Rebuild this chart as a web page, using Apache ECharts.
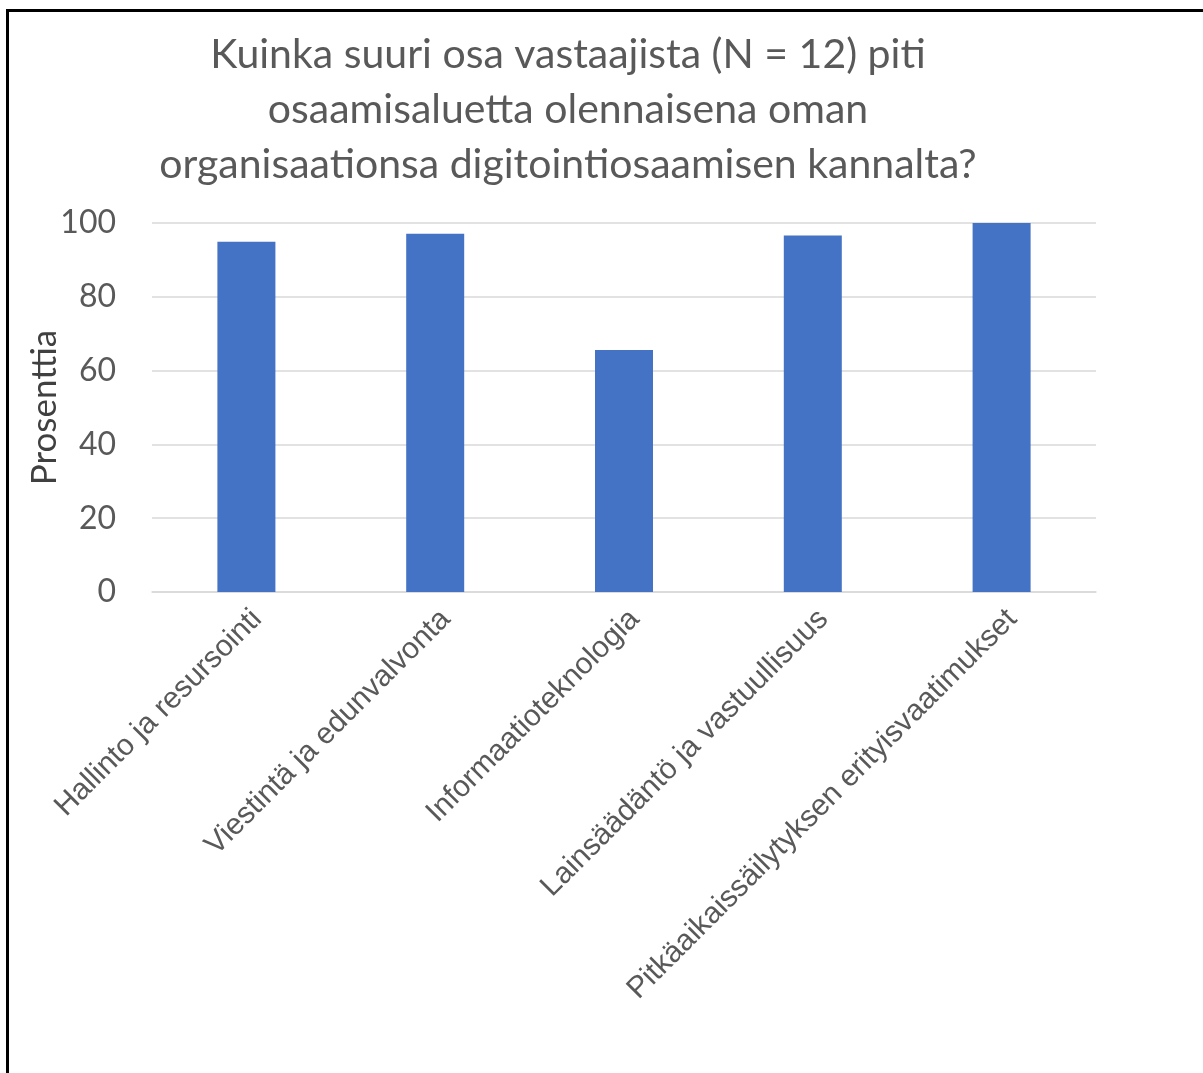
<!DOCTYPE html>
<html>
<head>
<meta charset="utf-8">
<script src="https://cdn.jsdelivr.net/npm/echarts@6/dist/echarts.min.js"></script>
<style>
  html, body { margin: 0; padding: 0; background: #fff; }
  .frame {
    position: absolute; left: 6px; top: 9px;
    width: 1300px; height: 1200px;
    border: 3px solid #000;
  }
  #chart { position: absolute; left: 0; top: 0; width: 1203px; height: 1073px; }
</style>
</head>
<body>
<div class="frame"></div>
<div id="chart"></div>
<script>
// kategoriat ja arvot (prosenttia)
var categories = [
  'Hallinto ja resursointi',
  'Viestintä ja edunvalvonta',
  'Informaatioteknologia',
  'Lainsäädäntö ja vastuullisuus',
  'Pitkäaikaissäilytyksen erityisvaatimukset'
];
var values = [94.9, 97.1, 65.6, 96.6, 100];
var yTicks = [0, 20, 40, 60, 80, 100];

var titleLines = [
  'Kuinka suuri osa vastaajista (N = 12) piti',
  'osaamisaluetta olennaisena oman',
  'organisaationsa digitointiosaamisen kannalta?'
];

var myChart = echarts.init(document.getElementById('chart'));
var options = {
  animation: false,
  title: {
    text: titleLines.join('\n'),
    left: 563,
    top: 22,
    textAlign: 'center',
    textStyle: {
      fontFamily: 'Lato',
      fontWeight: 'normal',
      fontSize: 41,
      lineHeight: 55,
      color: '#595959'
    }
  },
  grid: {
    left: 152,
    right: 107,
    top: 223,
    bottom: 481,
    outerBoundsMode: 'none'
  },
  xAxis: {
    type: 'category',
    data: categories,
    axisLine: { lineStyle: { color: '#d9d9d9', width: 1.5 } },
    axisTick: { show: false },
    axisLabel: {
      interval: 0,
      rotate: 45,
      margin: 12,
      verticalAlign: 'top',
      fontFamily: 'Liberation Sans',
      fontSize: 30,
      color: '#595959'
    }
  },
  yAxis: {
    type: 'value',
    min: yTicks[0],
    max: yTicks[yTicks.length - 1],
    interval: 20,
    name: 'Prosenttia',
    nameLocation: 'middle',
    nameGap: 90,
    nameMoveOverlap: false,
    nameTextStyle: {
      fontFamily: 'Lato',
      fontSize: 35,
      color: '#404040'
    },
    axisLine: { show: false },
    axisTick: { show: false },
    splitLine: { lineStyle: { color: '#d9d9d9', width: 1.5 } },
    axisLabel: {
      margin: 36,
      fontFamily: 'Lato',
      fontSize: 32,
      color: '#595959'
    }
  },
  series: [
    {
      type: 'bar',
      data: values,
      barWidth: 58,
      itemStyle: { color: '#4472C4' }
    }
  ]
};
myChart.setOption(options);
</script>
</body>
</html>
